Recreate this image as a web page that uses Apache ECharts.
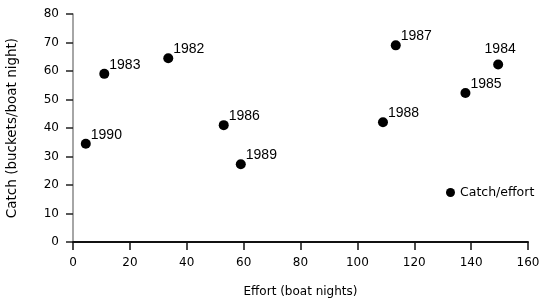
<!DOCTYPE html>
<html>
<head>
<meta charset="utf-8">
<script src="https://cdn.jsdelivr.net/npm/echarts@6/dist/echarts.min.js"></script>
<style>
  html, body { margin: 0; padding: 0; background: #fff; }
  #chart { width: 542px; height: 302px; }
</style>
</head>
<body>
<div id="chart"></div>
<script>
// catch per effort by year
var years = ["1990", "1983", "1982", "1986", "1989", "1987", "1988", "1985", "1984"];
var effort = [4.5, 11, 33.5, 53, 59, 113.5, 109, 138, 149.5];
var catchRate = [34.5, 59, 64.5, 41, 27.3, 69, 42, 52.3, 62.3];
var xTicks = [0, 20, 40, 60, 80, 100, 120, 140, 160];
var yTicks = [0, 10, 20, 30, 40, 50, 60, 70, 80];

var font = "DejaVu Sans";
var points = [];
for (var i = 0; i < years.length; i++) {
    var p = { value: [effort[i], catchRate[i]], name: years[i] };
    if (years[i] === "1984") {
        // this one sits above the dot
        p.label = { position: "top", offset: [2, 2] };
    }
    points.push(p);
}

var chart = echarts.init(document.getElementById("chart"));
chart.setOption({
    animation: false,
    backgroundColor: "#fff",
    textStyle: { fontFamily: font },
    grid: { left: 73, right: 14, top: 14, bottom: 60, containLabel: false, outerBoundsMode: "none" },
    legend: {
        data: ["Catch/effort"],
        left: 446,
        top: 186,
        padding: 0,
        icon: "circle",
        itemWidth: 9,
        itemHeight: 9,
        itemGap: 5,
        textStyle: { fontFamily: font, fontSize: 12.5, color: "#000" }
    },
    xAxis: {
        type: "value",
        min: xTicks[0],
        max: xTicks[xTicks.length - 1],
        interval: 20,
        name: "Effort (boat nights)",
        nameLocation: "middle",
        nameGap: 44,
        nameTextStyle: { fontFamily: font, fontSize: 12, color: "#000" },
        axisLine: { show: true, lineStyle: { color: "#111", width: 2 } },
        axisTick: { show: true, inside: false, length: 8, lineStyle: { color: "#111", width: 1.5 } },
        axisLabel: { fontFamily: font, fontSize: 12, color: "#000", margin: 15 },
        splitLine: { show: false }
    },
    yAxis: {
        type: "value",
        min: yTicks[0],
        max: yTicks[yTicks.length - 1],
        interval: 10,
        name: "Catch (buckets/boat night)",
        nameLocation: "middle",
        nameGap: 54,
        nameRotate: 90,
        nameTextStyle: { fontFamily: font, fontSize: 13.5, color: "#000" },
        axisLine: { show: true, lineStyle: { color: "#888", width: 1.5 } },
        axisTick: { show: true, inside: false, length: 7, lineStyle: { color: "#222", width: 1.5 } },
        axisLabel: { fontFamily: font, fontSize: 12, color: "#000", margin: 14 },
        splitLine: { show: false }
    },
    series: [
        {
            name: "Catch/effort",
            type: "scatter",
            symbol: "circle",
            symbolSize: 10,
            itemStyle: { color: "#000", opacity: 1 },
            label: {
                show: true,
                position: "right",
                offset: [-5, -9],
                fontFamily: "Liberation Sans",
                fontSize: 14,
                color: "#000",
                formatter: function (params) { return params.name; }
            },
            data: points
        }
    ]
});
</script>
</body>
</html>
